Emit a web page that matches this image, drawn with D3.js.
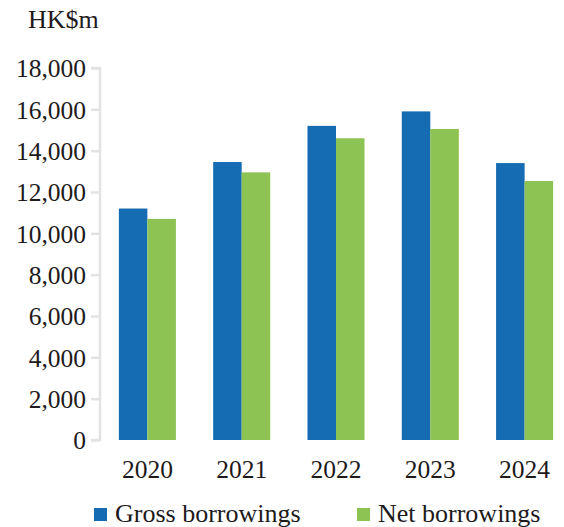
<!DOCTYPE html>
<html><head><meta charset="utf-8">
<script src="https://cdn.jsdelivr.net/npm/d3@7/dist/d3.min.js"></script>
<style>body{margin:0;background:#fff}svg{display:block}</style>
</head><body>
<svg id="c" width="564" height="527"></svg>
<script>
const years = ["2020","2021","2022","2023","2024"];
const seriesNames = ["Gross borrowings","Net borrowings"];
const gross = [11200, 13450, 15200, 15900, 13400];
const net = [10700, 12950, 14600, 15050, 12530];
const yTicks = [0,2000,4000,6000,8000,10000,12000,14000,16000,18000];
const colors = ["#156cb3","#8cc353"];

const svg = d3.select("#c");
const font = "'Liberation Serif','Times New Roman',serif";
const txt = "#1e1a1b";
const axisX = 100;
const y = d3.scaleLinear().domain([0,18000]).range([440,68]);
const x0 = d3.scaleBand().domain(years).range([axisX, axisX+472]).paddingInner(0.395).paddingOuter(0.2);
const x1 = d3.scaleBand().domain(seriesNames).range([0, x0.bandwidth()]);

const data = years.map((yr,i)=>({year:yr, vals:[gross[i], net[i]]}));
const g = svg.append("g");
g.selectAll("g.grp").data(data).join("g")
  .attr("transform", d=>`translate(${x0(d.year)},0)`)
  .selectAll("rect").data(d=>d.vals.map((v,j)=>({v,j})))
  .join("rect")
  .attr("x", d=>x1(seriesNames[d.j]))
  .attr("width", x1.bandwidth())
  .attr("y", d=>y(d.v))
  .attr("height", d=>y(0)-y(d.v))
  .attr("fill", d=>colors[d.j]);

const yAxis = d3.axisLeft(y).tickValues(yTicks).tickSize(9).tickPadding(5).tickFormat(d3.format(","));
const ya = svg.append("g").attr("transform",`translate(${axisX},0)`).call(yAxis);
ya.select(".domain").attr("stroke","#e3e3e3").attr("stroke-width",2.5).attr("d",`M-9,${y(18000)}H0V${y(0)}H-9`);
ya.selectAll(".tick line").attr("stroke","#e3e3e3").attr("stroke-width",2.5);
ya.selectAll(".tick text").attr("font-family",font).attr("font-size",25.5).attr("fill",txt).attr("dy","0.34em");

svg.append("g").selectAll("text").data(years).join("text")
  .attr("x", d=>x0(d)+x0.bandwidth()/2).attr("y",478)
  .attr("text-anchor","middle").attr("font-family",font).attr("font-size",25.5).attr("fill",txt)
  .text(d=>d);

svg.append("text").attr("x",28).attr("y",28).attr("font-family",font).attr("font-size",26).attr("fill",txt).text("HK$m");

const legX = [94, 357];
const lg = svg.append("g").selectAll("g").data(seriesNames).join("g")
  .attr("transform",(d,i)=>`translate(${legX[i]},508)`);
lg.append("rect").attr("width",13).attr("height",13).attr("fill",(d,i)=>colors[i]);
lg.append("text").attr("x",21).attr("y",13.5).attr("font-family",font).attr("font-size",26).attr("fill",txt).text(d=>d);
</script>
</body></html>
